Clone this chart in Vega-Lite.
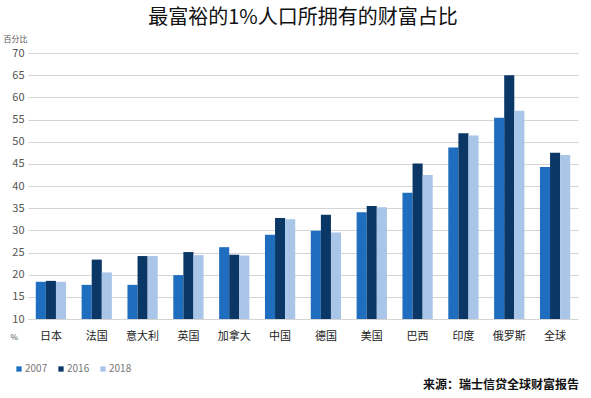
{
  "$schema": "https://vega.github.io/schema/vega-lite/v6.json",
  "width": 550,
  "height": 266,
  "autosize": {"type": "none"},
  "padding": {"left": 28, "top": 53, "right": 13, "bottom": 79},
  "background": "white",
  "config": {
    "font": "Noto Sans CJK SC",
    "view": {"stroke": null}
  },
  "title": {
    "text": "最富裕的1%人口所拥有的财富占比",
    "anchor": "middle",
    "fontSize": 20,
    "fontWeight": "normal",
    "color": "#111111",
    "offset": 7
  },
  "datasets": {
    "bars": [
      {"country": "日本", "year": "2007", "value": 18.4},
      {"country": "日本", "year": "2016", "value": 18.6},
      {"country": "日本", "year": "2018", "value": 18.4},
      {"country": "法国", "year": "2007", "value": 17.7},
      {"country": "法国", "year": "2016", "value": 23.4},
      {"country": "法国", "year": "2018", "value": 20.5},
      {"country": "意大利", "year": "2007", "value": 17.7},
      {"country": "意大利", "year": "2016", "value": 24.2},
      {"country": "意大利", "year": "2018", "value": 24.2},
      {"country": "英国", "year": "2007", "value": 19.9},
      {"country": "英国", "year": "2016", "value": 25.1},
      {"country": "英国", "year": "2018", "value": 24.4},
      {"country": "加拿大", "year": "2007", "value": 26.2},
      {"country": "加拿大", "year": "2016", "value": 24.5},
      {"country": "加拿大", "year": "2018", "value": 24.3},
      {"country": "中国", "year": "2007", "value": 29.0},
      {"country": "中国", "year": "2016", "value": 32.8},
      {"country": "中国", "year": "2018", "value": 32.5},
      {"country": "德国", "year": "2007", "value": 29.9},
      {"country": "德国", "year": "2016", "value": 33.5},
      {"country": "德国", "year": "2018", "value": 29.5},
      {"country": "美国", "year": "2007", "value": 34.1},
      {"country": "美国", "year": "2016", "value": 35.5},
      {"country": "美国", "year": "2018", "value": 35.2},
      {"country": "巴西", "year": "2007", "value": 38.5},
      {"country": "巴西", "year": "2016", "value": 45.1},
      {"country": "巴西", "year": "2018", "value": 42.5},
      {"country": "印度", "year": "2007", "value": 48.7},
      {"country": "印度", "year": "2016", "value": 51.9},
      {"country": "印度", "year": "2018", "value": 51.4},
      {"country": "俄罗斯", "year": "2007", "value": 55.4},
      {"country": "俄罗斯", "year": "2016", "value": 65.0},
      {"country": "俄罗斯", "year": "2018", "value": 57.0},
      {"country": "全球", "year": "2007", "value": 44.3},
      {"country": "全球", "year": "2016", "value": 47.5},
      {"country": "全球", "year": "2018", "value": 47.0}
    ],
    "source": [
      {"country": "全球", "value": -4.9, "label": "来源：瑞士信贷全球财富报告"}
    ]
  },
  "encoding": {
    "x": {
      "field": "country",
      "type": "nominal",
      "sort": null,
      "scale": {"paddingInner": 0.34, "paddingOuter": 0.17},
      "axis": {
        "title": "%",
        "titleX": -18,
        "titleY": 18,
        "titleAlign": "left",
        "titleBaseline": "middle",
        "titleFontSize": 8,
        "titleFontWeight": "normal",
        "titleColor": "#555555",
        "labelAngle": 0,
        "labelFontSize": 11,
        "labelColor": "#222222",
        "labelPadding": 11,
        "ticks": false,
        "domain": false,
        "grid": false
      }
    },
    "y": {
      "field": "value",
      "type": "quantitative",
      "scale": {"domain": [10, 70], "nice": false, "zero": false},
      "axis": {
        "values": [10, 15, 20, 25, 30, 35, 40, 45, 50, 55, 60, 65, 70],
        "labelOverlap": false,
        "title": "百分比",
        "titleAngle": 0,
        "titleX": -25,
        "titleY": -14,
        "titleAlign": "left",
        "titleBaseline": "middle",
        "titleFontSize": 8,
        "titleFontWeight": "normal",
        "titleColor": "#555555",
        "labelFontSize": 11,
        "labelColor": "#555555",
        "labelPadding": 4,
        "ticks": false,
        "domain": false,
        "grid": true,
        "gridColor": "#d4d4d4",
        "gridWidth": 1.2
      }
    }
  },
  "layer": [
    {
      "data": {"name": "bars"},
      "mark": {"type": "bar"},
      "encoding": {
        "xOffset": {
          "field": "year",
          "type": "nominal",
          "scale": {"paddingInner": 0, "paddingOuter": 0}
        },
        "y2": {"datum": 10},
        "color": {
          "field": "year",
          "type": "nominal",
          "scale": {"domain": ["2007", "2016", "2018"], "range": ["#1f6dbf", "#0b3766", "#a9c5e8"]},
          "legend": {
            "orient": "none",
            "legendX": -14,
            "legendY": 311,
            "direction": "horizontal",
            "title": null,
            "symbolType": "square",
            "symbolSize": 28,
            "symbolStrokeWidth": 0,
            "labelFontSize": 10,
            "labelColor": "#777777",
            "labelOffset": 1,
            "columnPadding": 8
          }
        }
      }
    },
    {
      "data": {"name": "source"},
      "mark": {"type": "text", "align": "right", "baseline": "middle", "fontSize": 12, "fontWeight": "bold", "color": "#111111", "dx": 24},
      "encoding": {
        "text": {"field": "label"}
      }
    }
  ]
}
